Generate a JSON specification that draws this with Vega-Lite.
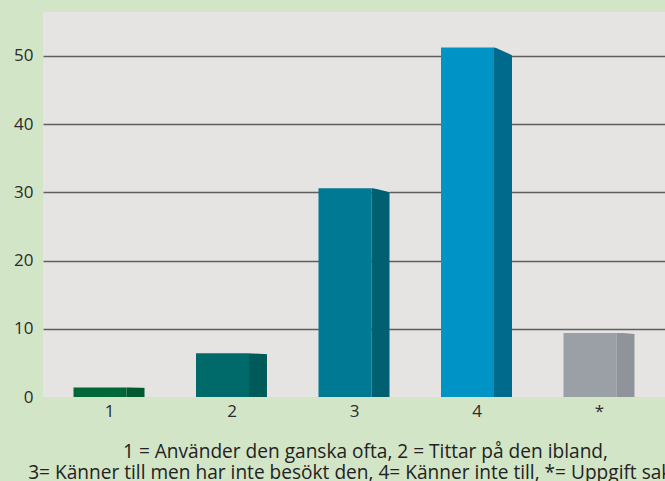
{
  "$schema": "https://vega.github.io/schema/vega-lite/v6.json",
  "autosize": "none",
  "width": 623,
  "height": 385,
  "padding": {"left": 43, "top": 12, "right": 0, "bottom": 84},
  "background": "#d2e5c7",
  "config": {
    "view": {"fill": "#e6e4e2", "stroke": null},
    "font": "Open Sans"
  },
  "title": {
    "text": ["1 = Använder den ganska ofta, 2 = Tittar på den ibland,", "3= Känner till men har inte besökt den, 4= Känner inte till, *= Uppgift saknas"],
    "orient": "bottom",
    "anchor": "middle",
    "frame": "group",
    "fontSize": 19.1,
    "fontWeight": "normal",
    "lineHeight": 21,
    "color": "#222222",
    "offset": 24,
    "dx": 11
  },
  "data": {
    "values": [
      {"kat": "1", "value": 1.4},
      {"kat": "2", "value": 6.4},
      {"kat": "3", "value": 30.6},
      {"kat": "4", "value": 51.25},
      {"kat": "*", "value": 9.4}
    ]
  },
  "encoding": {
    "x": {
      "field": "kat",
      "type": "nominal",
      "sort": null,
      "scale": {"paddingInner": 0, "paddingOuter": 0.043},
      "axis": {
        "domain": false,
        "ticks": false,
        "labelAngle": 0,
        "labelPadding": 6,
        "labelFontSize": 17,
        "labelColor": "#2b2b2b",
        "title": null
      }
    },
    "y": {
      "field": "value",
      "type": "quantitative",
      "scale": {"domain": [0, 56.45], "nice": false},
      "axis": {
        "values": [0, 10, 20, 30, 40, 50],
        "domain": false,
        "ticks": false,
        "title": null,
        "labelFontSize": 17,
        "labelColor": "#2b2b2b",
        "labelPadding": 10,
        "gridColor": {"condition": {"test": "datum.value === 0", "value": "transparent"}, "value": "#5e5e5e"},
        "gridWidth": 1.5
      }
    }
  },
  "layer": [
    {
      "mark": {"type": "bar", "width": 53, "xOffset": -9.5},
      "encoding": {
        "color": {
          "field": "kat",
          "type": "nominal",
          "scale": {"domain": ["1", "2", "3", "4", "*"], "range": ["#006737", "#006a6a", "#007a94", "#0093c6", "#9aa0a5"]},
          "legend": null
        }
      }
    },
    {
      "mark": {"type": "bar", "width": 18, "xOffset": 26},
      "encoding": {
        "color": {
          "field": "kat",
          "type": "nominal",
          "scale": {"domain": ["1", "2", "3", "4", "*"], "range": ["#005a30", "#005a5a", "#005f70", "#006a8c", "#8e9499"]},
          "legend": null
        }
      }
    },
    {
      "mark": {"type": "point", "filled": true, "opacity": 1, "size": 324, "xOffset": 26, "color": "#e6e4e2", "strokeWidth": 0},
      "encoding": {
        "shape": {
          "field": "kat",
          "type": "nominal",
          "scale": {"domain": ["1", "2", "3", "4", "*"], "range": ["M-1,-0.05L1.05,-0.05L1.05,0.02Z", "M-1,-0.05L1.05,-0.05L1.05,0.1Z", "M-1,-0.05L1.05,-0.05L1.05,0.45Z", "M-1,-0.05L1.05,-0.05L1.05,0.88Z", "M-1,-0.05L1.05,-0.05L1.05,0.11Z"]},
          "legend": null
        }
      }
    }
  ],
  "resolve": {"scale": {"color": "independent"}}
}
